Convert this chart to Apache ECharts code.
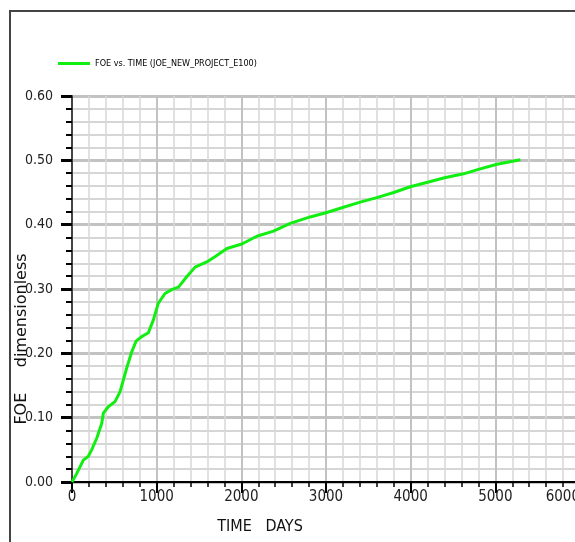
<!DOCTYPE html>
<html>
<head>
<meta charset="utf-8">
<script src="https://cdn.jsdelivr.net/npm/echarts@6/dist/echarts.min.js"></script>
<style>
html,body{margin:0;padding:0;background:#fff;}
#chart{width:575px;height:542px;}
</style>
</head>
<body>
<div id="chart"></div>
<script>
// Data
const seriesName = 'FOE vs. TIME (JOE_NEW_PROJECT_E100)';
const timeDays = [0, 55, 134, 193, 232, 292, 351, 370, 429, 508, 567, 646, 705, 757, 823, 902, 961, 1020, 1099, 1178, 1257, 1355, 1454, 1592, 1710, 1829, 2006, 2183, 2380, 2577, 2813, 3010, 3207, 3404, 3600, 3800, 3995, 4200, 4400, 4626, 4800, 5020, 5296];
const foeValues = [0, 0.013, 0.034, 0.040, 0.050, 0.068, 0.091, 0.107, 0.117, 0.125, 0.140, 0.177, 0.202, 0.219, 0.226, 0.232, 0.252, 0.278, 0.293, 0.299, 0.303, 0.319, 0.334, 0.342, 0.352, 0.363, 0.370, 0.382, 0.390, 0.402, 0.412, 0.419, 0.427, 0.435, 0.442, 0.450, 0.459, 0.466, 0.473, 0.479, 0.486, 0.494, 0.501];
const xAxisName = 'TIME   DAYS';
const yAxisName = 'FOE     dimensionless';

const narrow = "'Liberation Sans Narrow', 'DejaVu Sans Condensed', sans-serif";
const points = timeDays.map((t, i) => [t, foeValues[i]]);

const chart = echarts.init(document.getElementById('chart'), null, {renderer: 'canvas'});
chart.setOption({
  animation: false,
  backgroundColor: '#fff',
  graphic: [{
    type: 'rect', silent: true, z: -10,
    shape: {x: 10, y: 11, width: 800, height: 800},
    style: {fill: 'none', stroke: '#444', lineWidth: 2}
  }],
  legend: {
    left: 53, top: 54,
    icon: 'rect', itemWidth: 32, itemHeight: 3, itemGap: 10,
    textStyle: {fontFamily: narrow, fontSize: 9, color: '#000'},
    data: [seriesName]
  },
  grid: {left: 72, top: 96, width: 508, height: 386, containLabel: false, outerBoundsMode: 'none'},
  xAxis: {
    type: 'value', min: 0, max: 6000, interval: 1000,
    name: xAxisName, nameLocation: 'middle', nameGap: 37, nameMoveOverlap: false,
    nameTextStyle: {fontFamily: narrow, fontSize: 16, color: '#111', padding: [0, 132, 0, 0]},
    axisLine: {show: true, onZero: false, lineStyle: {color: '#000', width: 2}},
    axisTick: {show: true, length: 11, lineStyle: {color: '#000', width: 2}},
    minorTick: {show: true, splitNumber: 5, length: 5, lineStyle: {color: '#000', width: 1.5}},
    axisLabel: {fontFamily: narrow, fontSize: 15, color: '#222', margin: 8, showMaxLabel: true,
      alignMaxLabel: 'right', hideOverlap: false, formatter: v => String(v)},
    splitLine: {show: true, lineStyle: {color: '#c2c2c2', width: 2}},
    minorSplitLine: {show: true, lineStyle: {color: '#d8d8d8', width: 1.5}}
  },
  yAxis: {
    type: 'value', min: 0, max: 0.6, interval: 0.1,
    name: yAxisName, nameLocation: 'middle', nameRotate: 90, nameGap: 42, nameMoveOverlap: false,
    nameTextStyle: {fontFamily: "'DejaVu Sans', sans-serif", fontSize: 16, color: '#111', padding: [0, 100, 0, 0]},
    axisLine: {show: true, onZero: false, lineStyle: {color: '#444', width: 2}},
    axisTick: {show: true, length: 11, lineStyle: {color: '#000', width: 3}},
    minorTick: {show: true, splitNumber: 5, length: 6, lineStyle: {color: '#000', width: 2}},
    axisLabel: {fontFamily: narrow, fontSize: 14, color: '#222', margin: 19,
      formatter: v => v.toFixed(2)},
    splitLine: {show: true, lineStyle: {color: '#c2c2c2', width: 3}},
    minorSplitLine: {show: true, lineStyle: {color: '#d6d6d6', width: 2}}
  },
  series: [{
    name: seriesName,
    type: 'line',
    data: points,
    showSymbol: false,
    symbol: 'none',
    lineStyle: {color: '#11ee11', width: 3},
    itemStyle: {color: '#11ee11'}
  }]
});
</script>
</body>
</html>
